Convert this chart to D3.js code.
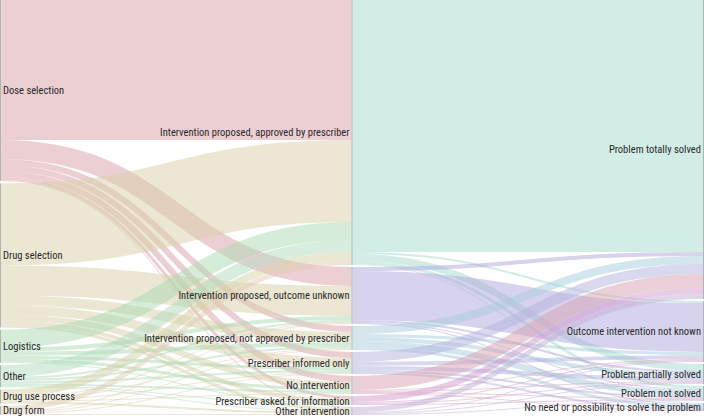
<!DOCTYPE html>
<html><head><meta charset="utf-8">
<script src="https://cdn.jsdelivr.net/npm/d3@7"></script>
<style>
html,body{margin:0;padding:0;background:#fff;}
svg{display:block;}
text{font-family:"Roboto Condensed","Liberation Sans Narrow","DejaVu Sans Condensed",sans-serif;font-size:10.5px;fill:#2a2a2a;}
</style>
</head><body>
<svg id="chart" width="704" height="418"></svg>
<script>
// ---- Data ----
const causes = ["Dose selection","Drug selection","Logistics","Other","Drug use process","Drug form"];
const interventions = ["Intervention proposed, approved by prescriber","Intervention proposed, outcome unknown","Intervention proposed, not approved by prescriber","Prescriber informed only","No intervention","Prescriber asked for information","Other intervention"];
const outcomes = ["Problem totally solved","Outcome intervention not known","Problem partially solved","Problem not solved","No need or possibility to solve the problem"];

// rows: causes, columns: interventions
const causeToIntervention = [
  [140,19, 6,6,6,3,1],
  [ 82,30,10,9,6,4,3],
  [ 18, 4, 4,3,3,1,0],
  [ 12, 2, 2,2,2,1,1],
  [  8, 1, 1,1,1,0,2],
  [  5, 1, 1,1,0,0,1]
];
// rows: interventions, columns: outcomes
const interventionToOutcome = [
  [252, 2,7,3,1],
  [  4,49,2,1,1],
  [  8, 3,4,6,3],
  [ 10, 4,4,2,2],
  [ 14, 1,1,1,1],
  [  6, 1,1,1,0],
  [  5, 1,1,1,0]
];

const causeColors = ["#d99fa7","#d7cfa7","#abd9b1","#b1dcbd","#d6d2a8","#e2cbb3"];
const interventionColors = ["#a5dbcd","#afa5db","#a7cbdb","#b2b4de","#d9a1b3","#d39ccd","#c4b0d8"];
const outcomeColors = ["#a5dbcd","#afa5db","#a7cbdb","#d9a1b3","#d6d2a8"];

// ---- Build graph ----
const W = 704, H = 415, nodeW = 1, minPad = 2;
const spreadColumn = [true, true, false];
const columns = [causes, interventions, outcomes];
const colColors = [causeColors, interventionColors, outcomeColors];
const nodes = [];
columns.forEach((names, c) => names.forEach((name, i) => nodes.push({name, col:c, idx:i, color:colColors[c][i], out:[], inc:[]})));
const nodeAt = (c,i) => nodes.find(n => n.col===c && n.idx===i);
const links = [];
causeToIntervention.forEach((row,i)=>row.forEach((v,j)=>{ if(v>0) links.push({source:nodeAt(0,i),target:nodeAt(1,j),value:v}); }));
interventionToOutcome.forEach((row,i)=>row.forEach((v,j)=>{ if(v>0) links.push({source:nodeAt(1,i),target:nodeAt(2,j),value:v}); }));
links.forEach(l=>{ l.source.out.push(l); l.target.inc.push(l); });
nodes.forEach(n=>{ n.value = Math.max(d3.sum(n.out,l=>l.value), d3.sum(n.inc,l=>l.value)); });

const colNodes = [0,1,2].map(c => nodes.filter(n=>n.col===c));
const ky = d3.min(colNodes, ns => (H - (ns.length-1)*minPad) / d3.sum(ns, n=>n.value));
const vScale = d3.scaleLinear().domain([0,1]).range([0,ky]);
const xScale = d3.scaleLinear().domain([0,2]).range([0, W-nodeW]);

colNodes.forEach((ns,c)=>{
  const total = d3.sum(ns, n=>vScale(n.value));
  const gap = spreadColumn[c] ? (H - total)/(ns.length-1) : minPad;
  let y = 0;
  ns.forEach(n=>{
    n.x0 = xScale(n.col); n.x1 = n.x0 + nodeW;
    n.y0 = y; n.y1 = y + vScale(n.value); y = n.y1 + gap;
  });
});
nodes.forEach(n=>{
  n.out.sort((a,b)=>a.target.idx-b.target.idx);
  n.inc.sort((a,b)=>a.source.idx-b.source.idx);
  let y = n.y0; n.out.forEach(l=>{ l.width = vScale(l.value); l.y0 = y + l.width/2; y += l.width; });
  y = n.y0; n.inc.forEach(l=>{ l.y1 = y + l.width/2; y += l.width; });
});

// ---- Draw ----
const svg = d3.select("#chart");
const linkGen = d3.linkHorizontal();
svg.append("g").attr("fill","none").selectAll("path").data(links).join("path")
  .attr("d", l => linkGen({source:[l.source.x1, l.y0], target:[l.target.x0, l.y1]}))
  .attr("stroke", l => l.source.color)
  .attr("stroke-opacity", 0.5)
  .attr("stroke-width", l => Math.max(0.5, l.width));

svg.append("g").selectAll("rect").data(nodes).join("rect")
  .attr("x", n=>n.x0).attr("y", n=>n.y0)
  .attr("width", n=>n.x1-n.x0).attr("height", n=>Math.max(0.5,n.y1-n.y0))
  .attr("fill", "#9aa3a3").attr("fill-opacity",0.8);

svg.append("g").selectAll("text").data(nodes).join("text")
  .attr("x", n => n.col===0 ? n.x1 + 2 : n.x0 - 2)
  .attr("y", n => (n.y0+n.y1)/2 + (n.col===1 && n.idx===5 ? 1 : 0))
  .attr("dy","0.35em")
  .attr("text-anchor", n => n.col===0 ? "start" : "end")
  .text(n=>n.name);
</script>
</body></html>
